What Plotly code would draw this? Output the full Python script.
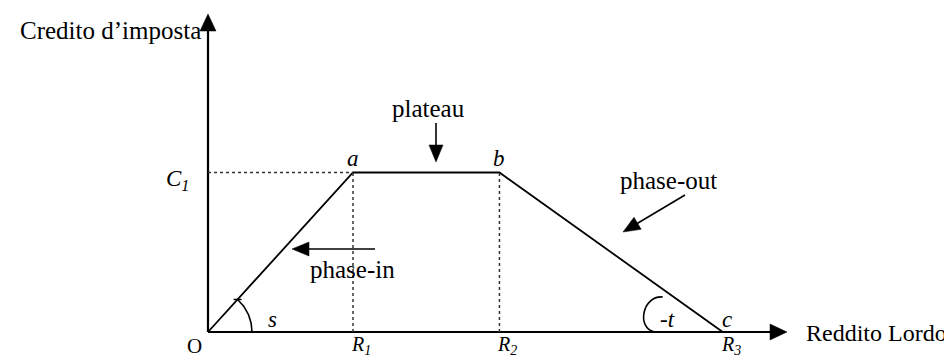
import numpy as np
import plotly.graph_objects as go

# ---------------- data ----------------
income_ticks = ["O", "R<sub>1</sub>", "R<sub>2</sub>", "R<sub>3</sub>"]
income_values = [0, 10, 20.1, 35.5]          # O, R1, R2, R3
credit_values = [0, 11, 11, 0]              # credit at O, a, b, c
C1 = 11
point_labels = ["a", "b", "c"]

# ---------------- geometry helpers (page pixel -> data) ----------------
PAGE_W, PAGE_H = 952, 360
OFF = 8                      # default body margin of the html page
W, H = PAGE_W - OFF, PAGE_H - OFF
PX = 14.5                    # pixels per unit (both axes)
X0, Y0 = 208, 332            # page pixel position of origin


def X(px):
    return (px - X0) / PX


def Y(py):
    return (Y0 - py) / PX


R1, R2, R3 = income_values[1], income_values[2], income_values[3]

FONT = "Liberation Serif, Times New Roman, serif"
BIG = 25
SMALL = 23

fig = go.Figure()
shapes = []


def line(xs, ys, width=1.8, dash=None, color="black"):
    fig.add_trace(go.Scatter(x=list(xs), y=list(ys), mode="lines",
                             line=dict(color=color, width=width, dash=dash),
                             hoverinfo="skip"))


def arrow(tail, tip, width=1.6, L=17, hw=7):
    tx, ty = tip
    dx, dy = tip[0] - tail[0], tip[1] - tail[1]
    n = np.hypot(dx, dy)
    ux, uy = dx / n, dy / n
    Ld, hwd = L / PX, hw / PX
    bx, by = tx - ux * Ld, ty - uy * Ld
    line([tail[0], bx + ux * 1 / PX], [tail[1], by + uy * 1 / PX], width=width)
    p1 = (bx - uy * hwd, by + ux * hwd)
    p2 = (bx + uy * hwd, by - ux * hwd)
    shapes.append(dict(type="path", xref="x", yref="y",
                       path=f"M {tx},{ty} L {p1[0]},{p1[1]} L {p2[0]},{p2[1]} Z",
                       fillcolor="black", line=dict(color="black", width=0.5)))


# axes with arrowheads
arrow((0, 0), (0, Y(14)), width=2.2, L=17, hw=8)
arrow((0, 0), (X(787), 0), width=2.2, L=17, hw=8)

# trapezoid
line(income_values, credit_values, width=1.8)

# dotted guides
dot = dict(width=1.5, dash="dot", color="#333333")
line([0, R1], [C1, C1], **dot)
line([R1, R1], [0, C1], **dot)
line([R2, R2], [0, C1], **dot)

# angle arc s at origin
theta_end = np.arctan2(C1, R1)
th = np.linspace(0, theta_end, 40)
r = 44 / PX
line(r * np.cos(th), r * np.sin(th), width=1.6)
# small tick across the phase-in line
tx, ty = r * np.cos(theta_end), r * np.sin(theta_end)
line([tx - 4 / PX, tx + 4 / PX], [ty, ty], width=1.4)


# -t arc near c (hand drawn curve)
def P(dx, dy):
    return f"{R3 + dx / PX},{-dy / PX}"


shapes.append(dict(type="path", xref="x", yref="y",
                   path=f"M {P(-60, -35)} C {P(-80, -37)} {P(-87, -4)} {P(-68, 0)}",
                   line=dict(color="black", width=1.6)))

# annotation arrows
arrow((X(436), Y(123)), (X(436), Y(162)))          # plateau
arrow((X(375), Y(249)), (X(292), Y(249)))          # phase-in
arrow((X(685), Y(195)), (X(623), Y(232)))          # phase-out

annotations = []


def label(text, x, y, size=BIG, xanchor="center", yanchor="middle"):
    annotations.append(dict(x=x, y=y, xref="x", yref="y", text=text,
                            showarrow=False, xanchor=xanchor, yanchor=yanchor,
                            font=dict(family=FONT, size=size, color="black")))


label("Credito d\u2019imposta", X(203), Y(30), xanchor="right")
label("Reddito Lordo", X(804), Y(333), size=24, xanchor="left")
label("plateau", X(428), Y(108))
label("phase-in", X(352), Y(269))
label("phase-out", X(668), Y(180))
label("<i>C<sub>1</sub></i>", X(191), Y(180), size=SMALL, xanchor="right")
label("<i>" + point_labels[0] + "</i>", R1, C1, size=SMALL, yanchor="bottom")
label("<i>" + point_labels[1] + "</i>", R2, C1, size=SMALL, yanchor="bottom")
label("<i>" + point_labels[2] + "</i>", X(727), Y(319), size=SMALL)
label("<i>s</i>", X(272), Y(319), size=SMALL)
label("<i>-t</i>", X(667), Y(319), size=SMALL)

# bottom tick labels (kept fully inside the picture)
label(income_ticks[0], X(194), Y(PAGE_H), size=21, yanchor="bottom")
for name, v in zip(income_ticks[1:], income_values[1:]):
    label("<i>" + name + "</i>", v + 8 / PX, Y(PAGE_H), size=20, yanchor="bottom")

fig.update_layout(
    width=W, height=H, margin=dict(l=0, r=0, t=0, b=0),
    paper_bgcolor="white", plot_bgcolor="white", showlegend=False,
    xaxis=dict(visible=False, range=[X(OFF), X(PAGE_W)], fixedrange=True),
    yaxis=dict(visible=False, range=[Y(PAGE_H), Y(OFF)], fixedrange=True),
    shapes=shapes, annotations=annotations,
)

fig.write_html("out.html")
